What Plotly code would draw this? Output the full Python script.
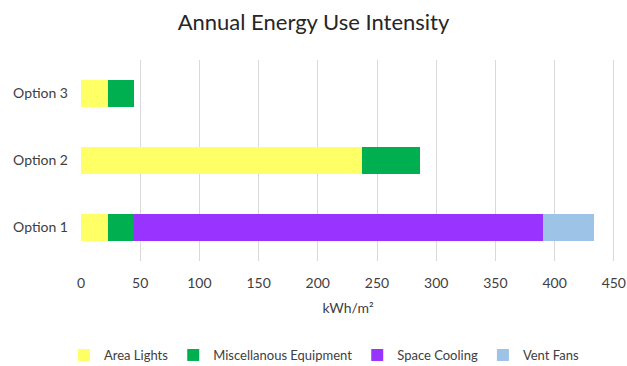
import plotly.graph_objects as go

# Categories and stacked end-use components (kWh/m²)
options = ["Option 1", "Option 2", "Option 3"]
area_lights = [23, 237, 23]
misc_equipment = [22, 49, 22]
space_cooling = [345, 0, 0]
vent_fans = [43, 0, 0]

x_ticks = [0, 50, 100, 150, 200, 250, 300, 350, 400, 450]

series = [
    ("Area Lights", area_lights, "#FFFF66"),
    ("Miscellanous Equipment", misc_equipment, "#00B050"),
    ("Space Cooling", space_cooling, "#9933FF"),
    ("Vent Fans", vent_fans, "#9DC3E6"),
]

fig = go.Figure()
for name, vals, color in series:
    fig.add_trace(go.Bar(
        y=options, x=vals, name=name, orientation="h",
        marker=dict(color=color, line=dict(width=0)),
    ))

font_family = "Lato, 'Open Sans', sans-serif"
text_color = "#404040"

fig.update_layout(
    barmode="stack",
    bargap=0.6,
    width=627, height=366,
    margin=dict(l=81, r=12, t=60, b=105, autoexpand=False),
    paper_bgcolor="white",
    plot_bgcolor="white",
    font=dict(family=font_family, size=14, color=text_color),
    title=dict(
        text="Annual Energy Use Intensity",
        x=0.5, xanchor="center", y=0.94, yanchor="middle",
        font=dict(family=font_family, size=22, color="#262626"),
    ),
    xaxis=dict(
        range=[0, 451],
        tickvals=x_ticks,
        automargin=False,
        showgrid=True, gridcolor="#D9D9D9", gridwidth=1,
        zeroline=False, showline=False,
        ticks="", ticklabelstandoff=12,
        title=dict(text="kWh/m²", standoff=13,
                   font=dict(family=font_family, size=14, color=text_color)),
    ),
    yaxis=dict(
        categoryorder="array", categoryarray=options,
        automargin=False,
        showgrid=False, zeroline=False, showline=False,
        ticks="", ticklabelstandoff=12,
    ),
    legend=dict(
        orientation="h", x=0.455, xanchor="center",
        yref="container", y=0.03, yanchor="middle",
        font=dict(family=font_family, size=13, color=text_color),
        traceorder="normal", itemwidth=30,
    ),
)

fig.write_html("out.html")
